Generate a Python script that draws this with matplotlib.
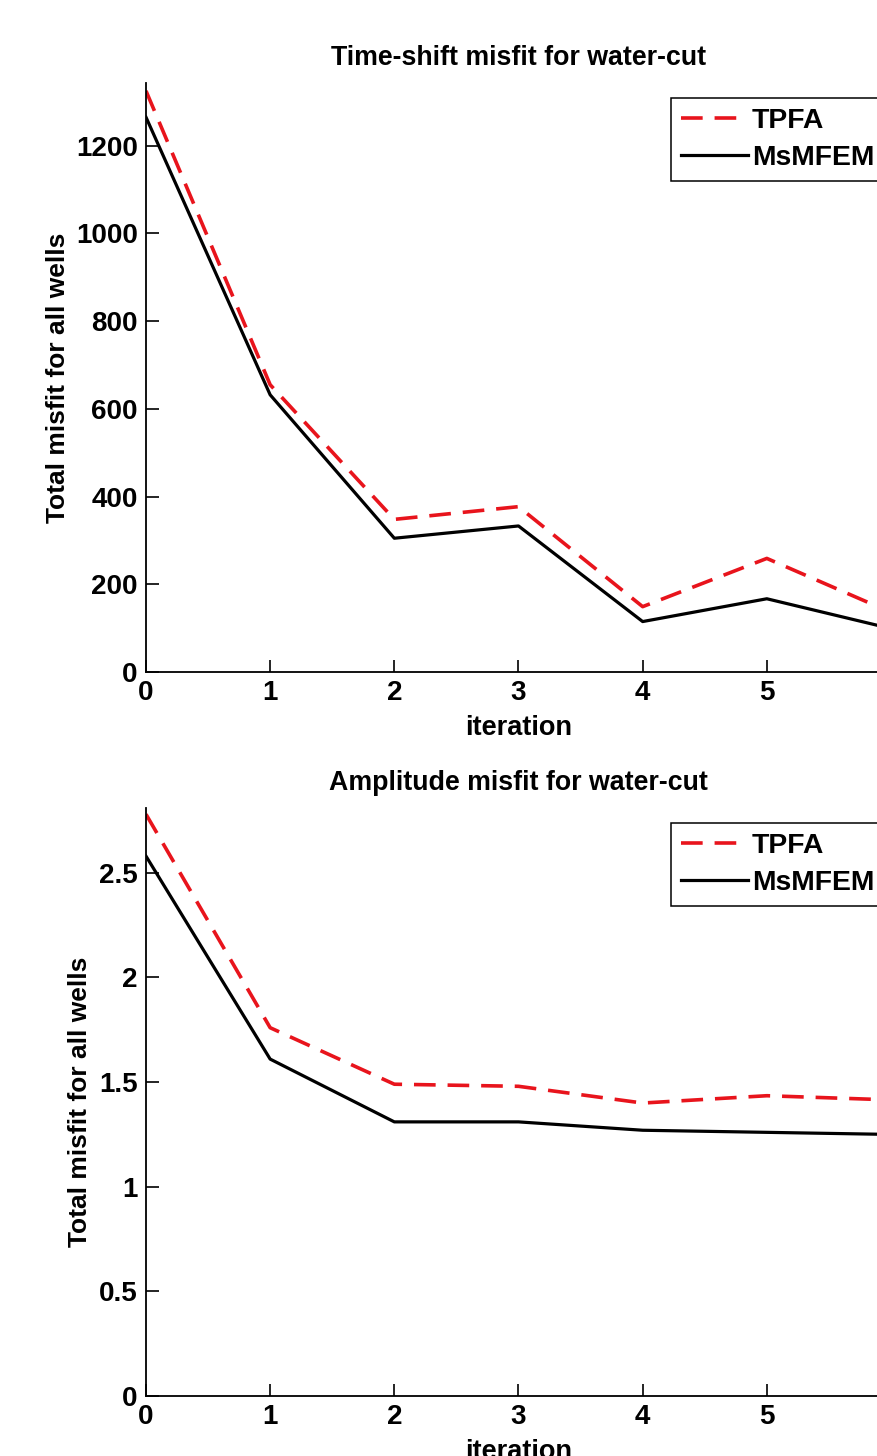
import numpy as np
import matplotlib.pyplot as plt

# iterations
iterations = [0, 1, 2, 3, 4, 5, 6]

# Time-shift misfit
shift_tpfa = [1325, 655, 348, 377, 149, 259, 136]
shift_msmfem = [1265, 632, 305, 333, 115, 167, 99]

# Amplitude misfit
amp_tpfa = [2.78, 1.76, 1.49, 1.48, 1.40, 1.435, 1.415]
amp_msmfem = [2.58, 1.61, 1.31, 1.31, 1.27, 1.26, 1.25]

plt.rcParams['font.family'] = ['Liberation Sans', 'DejaVu Sans']
plt.rcParams['font.weight'] = 'bold'
plt.rcParams['font.size'] = 20

fig = plt.figure(figsize=(8.78, 14.56), dpi=100)
ax1 = fig.add_axes([146 / 878, 1 - 672 / 1456, 745 / 878, 589 / 1456])
ax2 = fig.add_axes([146 / 878, 1 - 1396 / 1456, 745 / 878, 588 / 1456])


def style(ax, tpfa, msmfem, title, ymax, yticks, yticklabels, ylabelpad):
    ax.plot(iterations, tpfa, "--", color="#e8141c", lw=2.6, dashes=(6, 3.3), label="TPFA")
    ax.plot(iterations, msmfem, "-", color="black", lw=2.3, label="MsMFEM")
    ax.set_xlim(0, 6)
    ax.set_ylim(0, ymax)
    ax.set_xticks(iterations)
    ax.set_yticks(yticks)
    ax.set_yticklabels(yticklabels)
    ax.spines["top"].set_visible(False)
    ax.spines["right"].set_visible(False)
    ax.spines["left"].set_linewidth(1.3)
    ax.spines["bottom"].set_linewidth(1.3)
    ax.tick_params(direction="in", length=9, width=1.2, pad=6, labelsize=20)
    ax.set_title(title, fontsize=19.3, fontweight="bold", pad=13)
    ax.set_xlabel("iteration", fontsize=19.5, fontweight="bold", labelpad=6)
    ax.set_ylabel("Total misfit for all wells", fontsize=19, fontweight="bold", labelpad=ylabelpad)
    leg = ax.legend(loc="upper right", bbox_to_anchor=(0.991, 0.975), fancybox=False,
                    edgecolor="black", framealpha=1, handlelength=2.35, handletextpad=0.15,
                    borderpad=0.35, labelspacing=0.4, borderaxespad=0, fontsize=20.4)
    leg.get_frame().set_linewidth(1.1)


style(ax1, shift_tpfa, shift_msmfem, "Time-shift misfit for water-cut", 1343,
      [0, 200, 400, 600, 800, 1000, 1200], ["0", "200", "400", "600", "800", "1000", "1200"], 4)
style(ax2, amp_tpfa, amp_msmfem, "Amplitude misfit for water-cut", 2.81,
      [0, 0.5, 1, 1.5, 2, 2.5], ["0", "0.5", "1", "1.5", "2", "2.5"], 5)

fig.savefig("out.png", dpi=100)
